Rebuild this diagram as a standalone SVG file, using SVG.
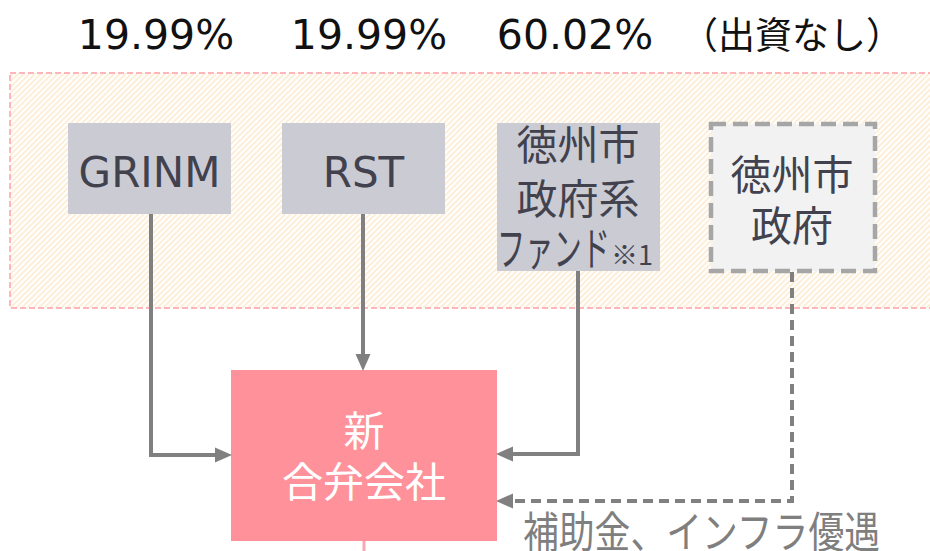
<svg xmlns="http://www.w3.org/2000/svg" width="930" height="551" viewBox="0 0 930 551">
  <defs>
    <pattern id="hatch" width="4" height="4" patternUnits="userSpaceOnUse" patternTransform="rotate(45)">
      <rect width="4" height="4" fill="#ffffff"/>
      <line x1="1" y1="0" x2="1" y2="4" stroke="#fde5c3" stroke-width="1.3"/>
    </pattern>
    <marker id="arrow" markerUnits="userSpaceOnUse" markerWidth="17" markerHeight="16" refX="4" refY="8" orient="auto">
      <path d="M0,0.5 L17,8 L0,15.5 z" fill="#808080"/>
    </marker>
  </defs>
  <style>
    .pct { font-family: "DejaVu Sans", "Noto Sans CJK JP", sans-serif; font-size: 41px; fill: #111111; text-anchor: middle; }
    .cjk { font-family: "Noto Sans CJK JP", sans-serif; }
    .node { fill: #cbcbd4; }
    .label { font-family: "DejaVu Sans", "Noto Sans CJK JP", sans-serif; font-size: 42px; fill: #41424e; text-anchor: middle; }
    .jlabel { font-family: "Noto Sans CJK JP", sans-serif; font-size: 41px; fill: #41424e; text-anchor: middle; }
    .white { fill: #ffffff; }
    .conn { fill: none; stroke: #808080; stroke-width: 4; }
    .dash { stroke-dasharray: 10 6; }
  </style>

  <g id="header">
    <text class="pct" x="156" y="49">19.99%</text>
    <text class="pct" x="369" y="49">19.99%</text>
    <text class="pct" x="575" y="49">60.02%</text>
    <text class="pct cjk" x="792" y="49" style="font-size:37px">（出資なし）</text>
  </g>

  <g id="investor-band">
    <rect x="10" y="73" width="930" height="235" fill="url(#hatch)" stroke="#ffb6ba" stroke-width="2" stroke-dasharray="6 3"/>
  </g>

  <g id="node-grinm">
    <rect class="node" x="68" y="123" width="163" height="91"/>
    <text class="label" x="149.5" y="187">GRINM</text>
  </g>

  <g id="node-rst">
    <rect class="node" x="282" y="123" width="163" height="91"/>
    <text class="label" x="363.5" y="187">RST</text>
  </g>

  <g id="node-fund">
    <rect class="node" x="497" y="123" width="163" height="148"/>
    <text class="jlabel" x="578" y="160">徳州市</text>
    <text class="jlabel" x="578" y="214">政府系</text>
    <text class="jlabel" x="497" y="265" style="text-anchor:start"><tspan style="font-size:46px" textLength="113" lengthAdjust="spacingAndGlyphs">ファンド</tspan><tspan style="font-size:27px" dx="1">※1</tspan></text>
  </g>

  <g id="node-city">
    <rect x="711" y="124" width="164" height="147" fill="#f2f2f2" stroke="#a6a6a6" stroke-width="4.5" stroke-dasharray="15 7"/>
    <text class="jlabel" x="792" y="190">徳州市</text>
    <text class="jlabel" x="792" y="241">政府</text>
  </g>

  <g id="node-jv">
    <rect x="231" y="370" width="266" height="171" fill="#ff919b"/>
    <text class="jlabel white" x="364" y="446">新</text>
    <text class="jlabel white" x="364" y="497">合弁会社</text>
    <line x1="364" y1="541" x2="364" y2="551" stroke="#f9a7b2" stroke-width="3"/>
  </g>

  <g id="connectors">
    <path class="conn" d="M151,214 V455 H219" marker-end="url(#arrow)"/>
    <path class="conn" d="M363,214 V358" marker-end="url(#arrow)"/>
    <path class="conn" d="M578,271 V454 H509" marker-end="url(#arrow)"/>
    <path class="conn dash" d="M792,272 V501 H509" marker-end="url(#arrow)"/>
  </g>

  <g id="label-support">
    <text class="cjk" x="523" y="548" font-size="43" fill="#7f7f7f" textLength="357" lengthAdjust="spacingAndGlyphs">補助金、インフラ優遇</text>
  </g>
</svg>
